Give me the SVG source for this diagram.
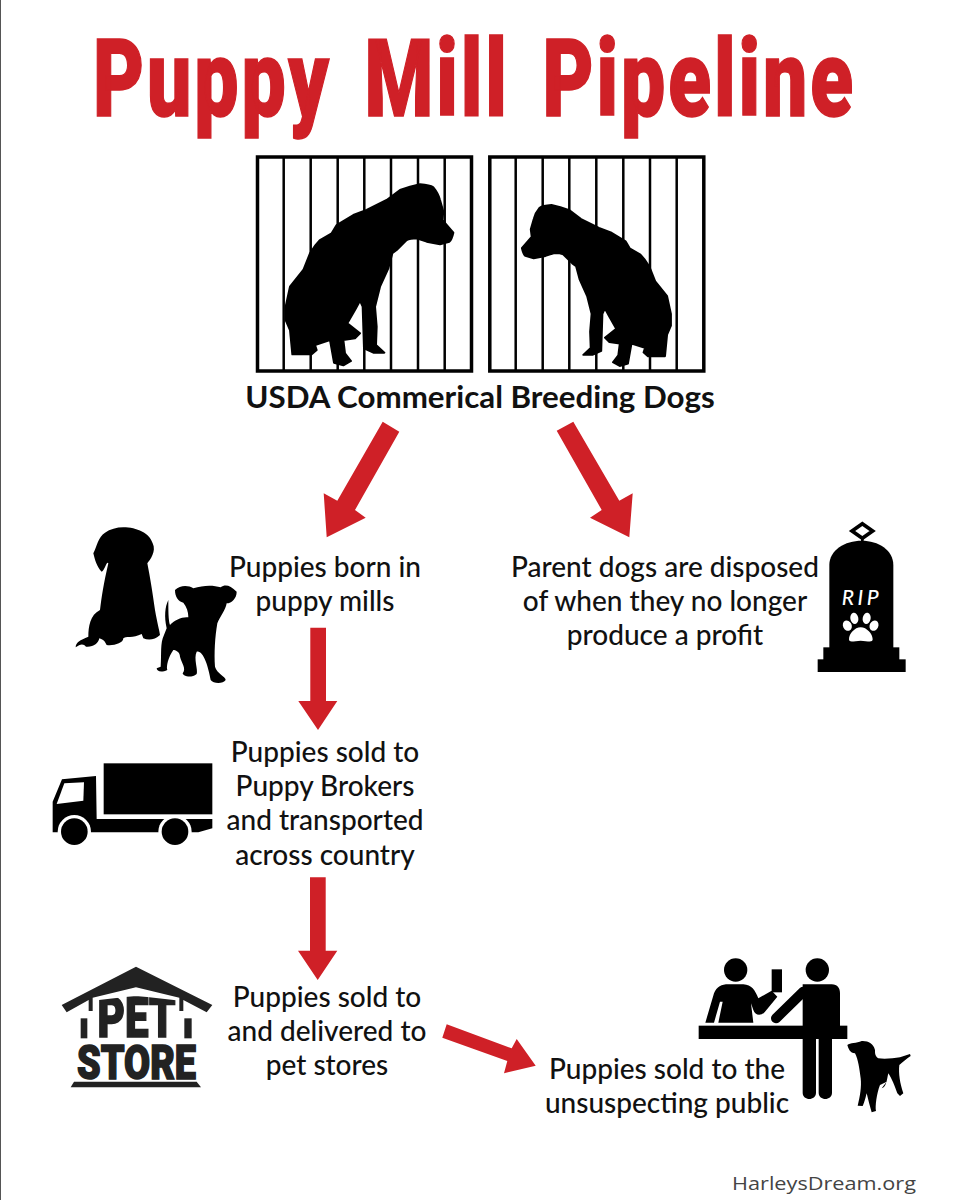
<svg xmlns="http://www.w3.org/2000/svg" width="960" height="1200" viewBox="0 0 960 1200">
<style>
.lbl{font-family:Lato,"Noto Sans",sans-serif;font-size:28px;fill:#111;text-anchor:middle;font-weight:500}
.head{font-family:Lato,"Noto Sans",sans-serif;font-size:31.3px;font-weight:700;fill:#111;text-anchor:middle}
.title{font-family:Roboto,"Liberation Sans",sans-serif;font-size:108px;font-weight:900;fill:#cf2027;stroke:#cf2027;stroke-width:1.5;letter-spacing:4px;word-spacing:14px}
.arrow{fill:#cf2027}
.cage{fill:none;stroke:#000;stroke-width:3.5}
.bar{stroke:#000;stroke-width:2.5}
.ps{font-family:Roboto,"Liberation Sans",sans-serif;font-weight:900;fill:#222;stroke:#222;stroke-width:1.6}
.soft{stroke:#000;stroke-width:6;stroke-linejoin:round}
</style>
<defs>
<path id="bigdog" class="soft" d="M540,133 Q570,135 580,142 Q595,160 600,180 L610,215 L607,240 L640,278 Q635,300 628,305 L600,313 L560,305 L530,295 Q510,295 500,300 L470,330 L457,340 L445,385 L420,440 L405,500 L410,560 L408,615 L433,638 L400,638 L372,625 L368,500 L360,482 L345,510 L322,550 L360,580 L345,595 L310,600 L315,640 L333,663 L310,676 L282,668 L270,600 L225,615 L230,630 L215,643 L157,643 L150,570 L137,540 L137,500 L150,440 L190,390 L210,340 Q225,315 240,300 L275,280 L290,255 L340,225 L380,210 L440,180 L480,150 L510,140 Z"/>
</defs>
<rect width="960" height="1200" fill="#fff"/>
<rect width="1" height="1200" fill="#555"/>
<g id="title"><text class="title" x="93" y="116" textLength="763" lengthAdjust="spacingAndGlyphs">Puppy Mill Pipeline</text></g>
<g id="cages">
<rect class="cage" x="257.5" y="157" width="214" height="214"/>
<path class="bar" d="M283.7,157V371M310.7,157V371M337.7,157V371M364.3,157V371M391,157V371M418,157V371M444.7,157V371"/>
<rect class="cage" x="489.8" y="157" width="214" height="214"/>
<path class="bar" d="M515.7,157V371M542.7,157V371M569.3,157V371M596.3,157V371M623.3,157V371M650,157V371M676.7,157V371"/>
<g transform="translate(240,140) scale(.33333)">
<use href="#bigdog"/>
<use href="#bigdog" transform="matrix(-.89 0 0 .89 1415 76.6)"/>
</g>
<text class="head" x="480" y="408">USDA Commerical Breeding Dogs</text>
</g>
<g id="connectors">
<polygon class="arrow" points="382.7,421.7 399.3,431.7 355,510 365.7,517.7 326.7,537.3 323.7,493.3 337.3,500.7"/>
<polygon class="arrow" points="573.3,421.7 556.7,430.7 601.7,510 590,517.7 629.3,537.3 632.7,493.3 619.3,500.7"/>
<polygon class="arrow" points="310.3,627.7 326,627.7 326,701 337.3,701 318,730 298.3,701 310.3,701"/>
<polygon class="arrow" points="310,877.3 325.7,877.3 325.7,950.7 337.3,950.7 317.7,980 298,950.7 310,950.7"/>
<polygon class="arrow" points="446.7,1024.3 442.3,1037.7 507.3,1061 504,1073.3 535.7,1065.7 516.7,1039 511.7,1048.3"/>
</g>
<g id="puppies-born">
<g transform="translate(60,510) scale(.33333)">
<path d="M190,52 C230,52 270,70 278,100 C290,125 270,150 262,160 C270,200 278,250 285,300 C292,340 298,360 300,375 C285,390 265,392 250,385 L245,372 C220,385 195,378 190,385 C190,400 160,408 140,405 C135,398 135,390 118,385 C115,400 100,412 78,410 C70,400 60,402 47,412 C47,398 60,390 85,380 C85,350 90,315 120,300 C125,260 130,225 145,160 C140,150 135,180 125,185 C110,170 105,150 100,130 C110,110 115,80 135,68 C150,58 170,52 190,52 Z"/>
<path d="M345,240 C360,225 385,225 400,235 C430,225 460,225 482,232 C495,222 510,225 530,245 C530,265 515,280 500,280 C497,300 480,320 472,340 C465,380 462,430 465,470 C470,490 498,500 497,510 C490,522 460,522 452,510 C445,470 430,420 410,425 C400,445 415,480 410,492 C395,505 370,500 368,490 C380,475 365,460 360,440 C360,425 345,420 340,420 C325,440 318,470 322,480 C305,488 290,485 290,475 L302,470 C305,430 300,400 312,375 L320,355 C312,320 315,290 325,270 C325,300 325,330 330,345 C345,330 365,320 385,322 C385,305 380,290 370,278 C355,275 345,260 345,240 Z"/>
</g>
<text class="lbl" x="325" y="577">Puppies born in</text>
<text class="lbl" x="325" y="611">puppy mills</text>
</g>
<g id="parent-dogs">
<g transform="translate(800,510) scale(.33333)">
<polygon points="187,41 218,63 187,85 156,63" fill="#fff" stroke="#000" stroke-width="11"/>
<rect x="183" y="84" width="8" height="12"/>
<path d="M88,415 L88,165 C88,120 135,92 185,92 C235,92 280,120 280,165 L280,415 Z"/>
<rect x="70" y="412" width="228" height="40"/>
<rect x="53" y="448" width="264" height="38"/>
<g fill="#fff">
<path d="M182,352 C200,352 218,372 218,388 C218,400 200,392 182,392 C164,392 147,400 147,388 C147,372 164,352 182,352 Z"/>
<ellipse cx="142" cy="347" rx="13" ry="16" transform="rotate(-25 142 347)"/>
<ellipse cx="163" cy="325" rx="12" ry="17" transform="rotate(-10 163 325)"/>
<ellipse cx="200" cy="325" rx="12" ry="17" transform="rotate(10 200 325)"/>
<ellipse cx="222" cy="347" rx="13" ry="16" transform="rotate(25 222 347)"/>
</g>
</g>
<text x="862" y="605" text-anchor="middle" font-family="Lato,'Liberation Sans',sans-serif" font-style="italic" font-weight="500" font-size="21" letter-spacing="3.5" fill="#fff">RIP</text>
<text class="lbl" x="665" y="577">Parent dogs are disposed</text>
<text class="lbl" x="665" y="611">of when they no longer</text>
<text class="lbl" x="665" y="645">produce a profit</text>
</g>
<g id="brokers">
<g transform="translate(40,750) scale(.33333)">
<rect x="191" y="40" width="326" height="153"/>
<path d="M38,242 L38,155 L66,88 L168,78 L170,207 L517,207 L517,235 L475,247 L38,247 Z"/>
<polygon points="73,100 132,97 130,152 50,162" fill="#fff"/>
<circle cx="103" cy="245" r="50" fill="#fff"/>
<circle cx="405" cy="245" r="50" fill="#fff"/>
<circle cx="103" cy="245" r="40"/>
<circle cx="405" cy="245" r="40"/>
</g>
<text class="lbl" x="325" y="762">Puppies sold to</text>
<text class="lbl" x="325" y="796">Puppy Brokers</text>
<text class="lbl" x="325" y="830">and transported</text>
<text class="lbl" x="325" y="865">across country</text>
</g>
<g id="pet-stores">
<text class="ps" x="97.5" y="1037" font-size="56" textLength="78" lengthAdjust="spacingAndGlyphs">PET</text>
<text class="ps" x="77" y="1079" font-size="49" textLength="119" lengthAdjust="spacingAndGlyphs">STORE</text>
<g transform="translate(50,955) scale(.33333)" fill="#222">
<polygon points="125,122 258,90 392,122 378,136 258,122 140,136" fill="#fff"/>
<polygon points="258,35 487,150 470,172 400,135 400,168 388,168 388,128 258,97 128,128 128,168 116,168 116,135 50,172 35,150"/>
<rect x="92" y="190" width="20" height="60"/>
<rect x="403" y="190" width="22" height="60"/>
<polygon points="72,380 440,380 453,397 62,397"/>
</g>
<text class="lbl" x="327" y="1007">Puppies sold to</text>
<text class="lbl" x="327" y="1041">and delivered to</text>
<text class="lbl" x="327" y="1075">pet stores</text>
</g>
<g id="public">
<g transform="translate(690,950) scale(.33333)">
<circle cx="137" cy="60" r="35"/>
<circle cx="382" cy="60" r="35"/>
<rect x="245" y="58" width="31" height="69"/>
<path d="M46,218 L72,130 C80,110 95,103 115,103 L160,103 C185,105 195,120 205,145 L245,122 L262,140 L225,185 C215,198 195,198 190,180 L183,160 L190,218 L85,218 L98,155 L90,155 L72,218 Z"/>
<rect x="26" y="227" width="446" height="40"/>
<path d="M340,125 L258,205" stroke="#000" stroke-width="30" stroke-linecap="round" fill="none"/>
<path d="M338,103 L425,103 C443,103 450,115 450,130 L450,228 L426,228 L426,428 C426,453 386,453 386,428 L386,267 L378,267 L378,428 C378,453 338,453 338,428 Z"/>
<path d="M472,285 C480,278 500,280 515,273 C535,272 550,280 555,300 C555,310 555,318 565,325 C585,328 610,325 630,322 L660,312 L662,318 C650,325 640,335 628,345 C625,370 630,400 640,430 L630,438 L622,430 C615,410 605,385 595,370 C590,390 590,410 575,415 L590,395 L570,405 C560,430 555,470 558,483 L545,487 C540,470 535,450 530,430 C525,450 522,460 518,468 L503,467 C510,440 515,410 512,385 C508,355 505,330 495,310 C480,310 475,295 472,285 Z"/>
</g>
<text class="lbl" x="667" y="1079">Puppies sold to the</text>
<text class="lbl" x="667" y="1113">unsuspecting public</text>
</g>
<g id="credit"><text x="732" y="1190" font-family="'Open Sans',sans-serif" font-size="18" fill="#444" textLength="184" lengthAdjust="spacingAndGlyphs">HarleysDream.org</text></g>
</svg>
